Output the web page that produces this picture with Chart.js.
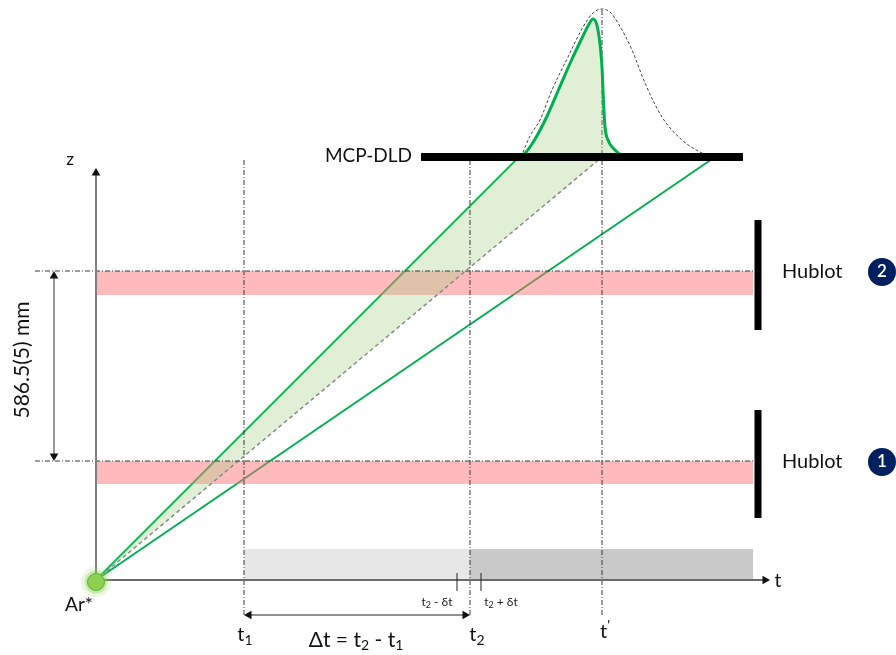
<!DOCTYPE html>
<html><head><meta charset="utf-8">
<script src="https://cdn.jsdelivr.net/npm/chart.js@4.4.1/dist/chart.umd.min.js"></script>
<style>html,body{margin:0;padding:0;background:#fff}#wrap{width:896px;height:655px;position:relative}</style>
</head><body><div id="wrap"><canvas id="c"></canvas></div>
<script>
// ---- data (t along time axis, z = height; origin = Ar* source) ----
const timeNames = ['t1', 't2', "t'"];
const timeMarks = [148, 374, 506];
const deltaTicks = [361, 385];             // t2 - δt , t2 + δt
const deltaNames = ['t2 - δt', 't2 + δt'];
const gateStart = [148, 374];
const gateEnd = [374, 657];
const gateHeight = 31;
const hublotNames = ['1', '2'];
const hublotTop = [119, 309];
const hublotBottom = [96, 285];
const hublotFrameLow = [62, 250];
const hublotFrameHigh = [170, 360];
const hublotFrameT = 662;
const bandEndT = 657;
const detectorZ = 423;
const detectorSpan = [325, 647];
const rayArrivalT = [423, 506, 619];       // fast edge, central, slow edge
const axisEnd = [674, 412];                // t-axis tip, z-axis tip
const gaussT = [425, 434, 444, 456, 472, 487, 497, 506, 514, 522, 536, 549, 566, 586, 604, 617];
const gaussH = [0, 21, 37, 67, 100, 130, 144, 148, 145, 134, 107, 74, 40, 17, 5, 0];
const arrivalT = [426, 434, 442, 452, 462, 476, 486, 492, 497, 502, 506, 507.5, 509, 512, 519, 528];
const arrivalH = [0, 10, 23, 43, 66, 98, 119, 131, 138, 127, 90, 55, 30, 17, 7, 0];
const spacingLabel = '586.5(5) mm';

// ---- build datasets (listed bottom -> top) ----
const P = (x, y) => ({x, y});
const layers = [];
function line(points, o) { layers.push(Object.assign({data: points, borderColor: '#000', borderWidth: 1, pointRadius: 0, fill: false, tension: 0, borderCapStyle: 'butt'}, o || {})); }
function dots(points, o) { layers.push(Object.assign({data: points, showLine: false, pointBorderWidth: 0, borderWidth: 0}, o || {})); }
function arrowTip(tx, ty, rot, r) { const a = rot * Math.PI / 180; return P(tx - Math.sin(a) * r, ty - Math.cos(a) * r); }

const GREEN = '#00b050';
const DASHDOT = [5, 2, 1, 2];

// gate windows
line([P(gateStart[0], gateHeight), P(gateEnd[0], gateHeight)], {borderWidth: 0, fill: {value: 0}, backgroundColor: '#e7e7e7'});
line([P(gateStart[1], gateHeight), P(gateEnd[1], gateHeight)], {borderWidth: 0, fill: {value: 0}, backgroundColor: '#c9c9c9'});
// edge rays
line([P(0, 0), P(rayArrivalT[0], detectorZ)], {borderColor: GREEN, borderWidth: 2});
line([P(0, 0), P(rayArrivalT[2], detectorZ)], {borderColor: GREEN, borderWidth: 2});
// hublot beams (pink bands)
hublotTop.forEach((z, i) => line([P(0, z), P(bandEndT, z)], {borderWidth: 0, fill: {value: hublotBottom[i]}, backgroundColor: 'rgba(255,110,118,0.48)'}));
// shaded cone between fast ray and central ray
line([P(0, 0), P(rayArrivalT[0], detectorZ), P(rayArrivalT[1], detectorZ), P(0, 0)], {borderWidth: 0, fill: 'shape', backgroundColor: 'rgba(160,205,130,0.33)'});
// central ray (dashed)
line([P(0, 0), P(rayArrivalT[1], detectorZ)], {borderColor: '#8a8a8a', borderWidth: 1.5, borderDash: [4, 3]});
// dash-dot reference lines at hublot heights
hublotTop.forEach(z => line([P(-61, z), P(bandEndT, z)], {borderColor: '#3a3a3a', borderDash: DASHDOT}));
// vertical dash-dot time marks
line([P(timeMarks[0], -35), P(timeMarks[0], 420)], {borderColor: '#3a3a3a', borderDash: DASHDOT});
line([P(timeMarks[1], -35), P(timeMarks[1], 420)], {borderColor: '#3a3a3a', borderDash: DASHDOT});
line([P(timeMarks[2], -35), P(timeMarks[2], detectorZ + gaussH[7])], {borderColor: '#3a3a3a', borderDash: DASHDOT});
// axes
line([P(0, 0), P(0, axisEnd[1] - 6)], {borderColor: '#7f7f7f', borderWidth: 2});
line([P(0, 0), P(axisEnd[0] - 6, 0)], {borderColor: '#6b6b6b', borderWidth: 2});
// full distribution (dashed) and arrival distribution (green)
line(gaussT.map((t, i) => P(t, detectorZ + gaussH[i])), {borderColor: '#444', borderWidth: 1, borderDash: [3, 2], cubicInterpolationMode: 'monotone'});
line(arrivalT.map((t, i) => P(t, detectorZ + arrivalH[i])), {borderColor: GREEN, borderWidth: 3, cubicInterpolationMode: 'monotone', fill: {value: detectorZ}, backgroundColor: 'rgba(160,205,130,0.33)'});
// detector
line([P(detectorSpan[0], detectorZ), P(detectorSpan[1], detectorZ)], {borderColor: '#000', borderWidth: 8});
// hublot frames
hublotFrameLow.forEach((z, i) => line([P(hublotFrameT, z), P(hublotFrameT, hublotFrameHigh[i])], {borderColor: '#000', borderWidth: 7}));
// δt ticks
deltaTicks.forEach(t => line([P(t, -11), P(t, 7)], {borderColor: '#222', borderWidth: 1}));
// dimension arrows
line([P(-42, hublotTop[0] + 3), P(-42, hublotTop[1] - 3)], {borderColor: '#333', borderWidth: 1});
line([P(timeMarks[0] + 3, -35), P(timeMarks[1] - 3, -35)], {borderColor: '#222', borderWidth: 1});
// arrowheads
const heads = [
  [0, axisEnd[1], 0], [axisEnd[0], 0, 90],
  [-42, hublotTop[1], 0], [-42, hublotTop[0], 180],
  [timeMarks[0], -35, 270], [timeMarks[1], -35, 90]
];
dots(heads.map(h => arrowTip(h[0], h[1], h[2], 5)), {pointStyle: 'triangle', pointRadius: 5, pointRotation: heads.map(h => h[2]), pointBackgroundColor: '#111'});
// Ar* source with glow
dots([P(0, -2)], {pointRadius: 15, pointBackgroundColor: 'rgba(146,208,80,0.18)'});
dots([P(0, -2)], {pointRadius: 11.5, pointBackgroundColor: 'rgba(146,208,80,0.35)'});
dots([P(0, -2)], {pointRadius: 8.5, pointBackgroundColor: '#8fd14f', pointBorderColor: '#4fb43a', pointBorderWidth: 1});
// numbered circles
dots(hublotTop.map(z => P(786, z - 1)), {pointRadius: 14, pointBackgroundColor: '#002060'});

// ---- labels ----
const FONT = 'Lato, "Open Sans", "DejaVu Sans", sans-serif';
function rich(ctx, parts, x, y, align, color) {
  let w = 0;
  parts.forEach(p => { ctx.font = (p.weight || '') + ' ' + p.size + 'px ' + FONT; p.w = ctx.measureText(p.text).width; w += p.w; });
  let sx = align === 'center' ? x - w / 2 : align === 'right' ? x - w : x;
  ctx.fillStyle = color || '#111';
  ctx.textAlign = 'left';
  ctx.textBaseline = 'middle';
  parts.forEach(p => { ctx.font = (p.weight || '') + ' ' + p.size + 'px ' + FONT; ctx.fillText(p.text, sx, y + (p.dy || 0)); sx += p.w; });
}
function sub(name, big, small) {
  const out = [{text: name[0], size: big}];
  if (name.length > 1) {
    if (name[1] === "'") out.push({text: "'", size: small, dy: -7});
    else out.push({text: name.slice(1), size: small, dy: 5});
  }
  return out;
}
const labelPlugin = {
  id: 'labels',
  afterDatasetsDraw(chart) {
    const {ctx, scales: {x, y}} = chart;
    const X = v => x.getPixelForValue(v), Y = v => y.getPixelForValue(v);
    ctx.save();
    rich(ctx, [{text: 'z', size: 17}], X(-26), Y(420), 'center');
    rich(ctx, [{text: 't', size: 19}], X(682), Y(-1), 'center');
    rich(ctx, [{text: 'Ar*', size: 19}], X(-17), Y(-25), 'center');
    rich(ctx, [{text: 'MCP-DLD', size: 19}], X(316), Y(detectorZ + 1), 'right');
    hublotTop.forEach((z, i) => {
      rich(ctx, [{text: 'Hublot', size: 20}], X(686), Y(z - 1), 'left');
      rich(ctx, [{text: hublotNames[i], size: 17, weight: '600'}], X(786), Y(z - 1), 'center', '#fff');
    });
    const tx = [149, 381, 509], ty = [-55, -55, -52];
    timeNames.forEach((n, i) => rich(ctx, sub(n, 20, 14), X(tx[i]), Y(ty[i]), 'center'));
    rich(ctx, [{text: 'Δt = t', size: 21}, {text: '2', size: 14, dy: 5}, {text: ' - t', size: 21}, {text: '1', size: 14, dy: 5}], X(260), Y(-60), 'center');
    const dx = [341, 405];
    deltaNames.forEach((n, i) => {
      const parts = n.split('2');
      rich(ctx, [{text: 't', size: 12}, {text: '2', size: 9, dy: 3}, {text: parts[1], size: 12}], X(dx[i]), Y(-22), 'center', '#222');
    });
    ctx.translate(X(-74), Y(220));
    ctx.rotate(-Math.PI / 2);
    rich(ctx, [{text: spacingLabel, size: 21}], 0, 0, 'center');
    ctx.restore();
  }
};

new Chart(document.getElementById('c'), {
  type: 'line',
  data: {datasets: layers.map((d, i) => Object.assign({}, d, {order: layers.length - i}))},
  options: {
    responsive: true, maintainAspectRatio: false, animation: false, events: [],
    layout: {padding: 0, autoPadding: false},
    plugins: {legend: {display: false}, tooltip: {enabled: false}},
    scales: {
      x: {type: 'linear', min: -96, max: 800, display: false},
      y: {type: 'linear', min: -75, max: 580, display: false}
    },
    elements: {point: {radius: 0}, line: {tension: 0}}
  },
  plugins: [labelPlugin]
});
</script></body></html>
